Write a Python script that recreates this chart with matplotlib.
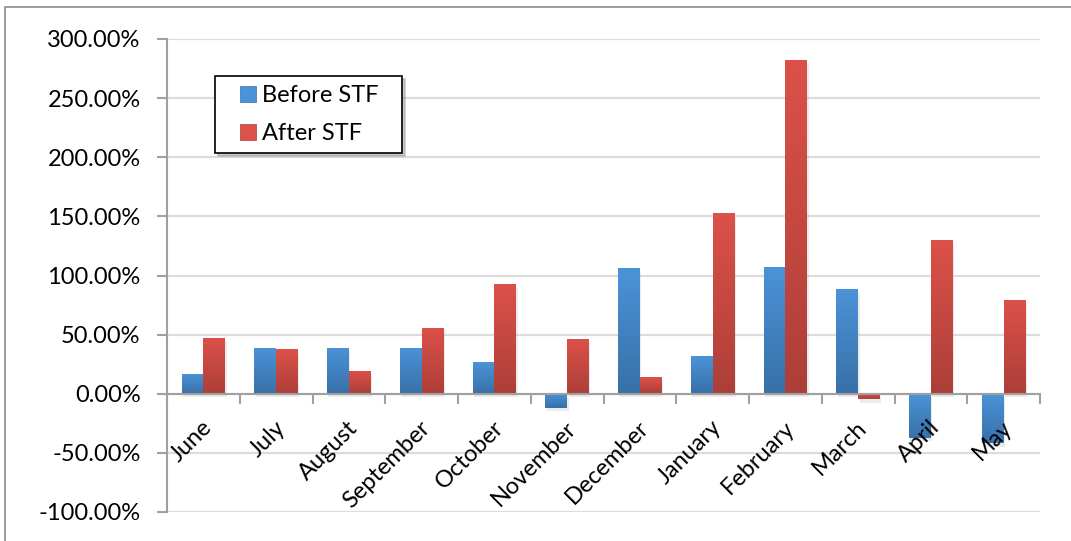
import numpy as np
import matplotlib
matplotlib.use('Agg')
import matplotlib.pyplot as plt
import matplotlib.patheffects as pe
from matplotlib.patches import Rectangle
from matplotlib.lines import Line2D
from matplotlib.ticker import FuncFormatter

months = ['June', 'July', 'August', 'September', 'October', 'November',
          'December', 'January', 'February', 'March', 'April', 'May']
before_stf = [17.0, 39.0, 39.0, 39.0, 27.0, -12.0, 106.5, 32.0, 107.5, 88.5, -37.0, -42.0]
after_stf = [47.5, 37.5, 19.5, 56.0, 92.5, 46.0, 14.0, 152.5, 282.0, -4.5, 130.0, 79.5]

blue_top, blue_bottom = '#4b93d8', '#3870a8'
red_top, red_bottom = '#dc5149', '#ac3f38'

plt.rcParams['font.family'] = ['Lato', 'DejaVu Sans']


def gradient_bars(ax, x, values, width, c_top, c_bottom):
    cmap = matplotlib.colors.LinearSegmentedColormap.from_list('g', [c_bottom, c_top])
    grad = np.linspace(1, 0, 256).reshape(-1, 1)
    bars = ax.bar(x, values, width, color=c_top, linewidth=0, zorder=3)
    for bar in bars:
        bar.set_path_effects([pe.SimplePatchShadow(offset=(1, -2.5), shadow_rgbFace='#999999', alpha=0.18),
                              pe.Normal()])
        x0, y0 = bar.get_x(), bar.get_y()
        y1 = y0 + bar.get_height()
        lo, hi = min(y0, y1), max(y0, y1)
        im = ax.imshow(grad, extent=[x0, x0 + bar.get_width(), lo, hi], cmap=cmap,
                       aspect='auto', zorder=4, interpolation='bicubic')
        im.set_clip_path(bar)
    return bars


W, H = 1071, 541
fig = plt.figure(figsize=(W / 100, H / 100), dpi=100)
ax = fig.add_axes([167 / W, 1 - 512 / H, (1040 - 167) / W, (512 - 39) / H])

x = np.arange(len(months))
w = 0.3
gradient_bars(ax, x - w / 2, before_stf, w, blue_top, blue_bottom)
gradient_bars(ax, x + w / 2, after_stf, w, red_top, red_bottom)

ax.set_xlim(-0.5, len(months) - 0.5)
ax.set_ylim(-100, 300)
ax.set_yticks(np.arange(-100, 301, 50))
ax.yaxis.set_major_formatter(FuncFormatter(lambda v, _: '{:.2f}%'.format(v)))
ax.grid(axis='y', color='#dcdcdc', linewidth=1.6, zorder=0)
ax.set_axisbelow(True)

for side in ('top', 'right'):
    ax.spines[side].set_visible(False)
ax.spines['left'].set_color('#a0a0a0')
ax.spines['left'].set_linewidth(1.5)
ax.spines['bottom'].set_position(('data', 0))
ax.spines['bottom'].set_color('#a0a0a0')
ax.spines['bottom'].set_linewidth(1.5)
ax.spines['bottom'].set_zorder(5)

ax.tick_params(axis='y', direction='out', length=7, width=1.5, color='#a0a0a0',
               labelsize=17, pad=12)
ax.set_xticks(np.arange(-0.5, len(months), 1.0))
ax.tick_params(axis='x', direction='out', length=7, width=1.5, color='#a0a0a0',
               labelbottom=False)

# month names sit just under the zero line
for i, m in enumerate(months):
    ax.annotate(m, xy=(i, 0), xytext=(4, -22), textcoords='offset points',
                rotation=45, rotation_mode='anchor', ha='right', va='center',
                fontsize=17, zorder=6)

handles = [Line2D([], [], marker='s', markersize=11.5, linestyle='none',
                  markerfacecolor=blue_top, markeredgecolor=blue_bottom, markeredgewidth=0.5),
           Line2D([], [], marker='s', markersize=11.5, linestyle='none',
                  markerfacecolor=red_top, markeredgecolor=red_bottom, markeredgewidth=0.5)]
leg = ax.legend(handles, ['Before STF', 'After STF'], loc='upper left', mode='expand',
                bbox_to_anchor=(215 / W, 1 - 154 / H, (402 - 215) / W, 78 / H),
                bbox_transform=fig.transFigure,
                fontsize=17, frameon=True, fancybox=False,
                shadow={'color': '#999999', 'alpha': 0.5},
                edgecolor='black', handlelength=2.0, handletextpad=-0.4,
                borderpad=0.38, labelspacing=0.72, borderaxespad=0)
leg.get_frame().set_linewidth(1.2)
leg.set_zorder(10)

fig.patches.append(Rectangle((5 / W, -0.02), 1.05, 1 - 7 / H + 0.02,
                             transform=fig.transFigure, fill=False,
                             edgecolor='#8c8c8c', linewidth=1.2))

fig.savefig('out.png', dpi=100)
